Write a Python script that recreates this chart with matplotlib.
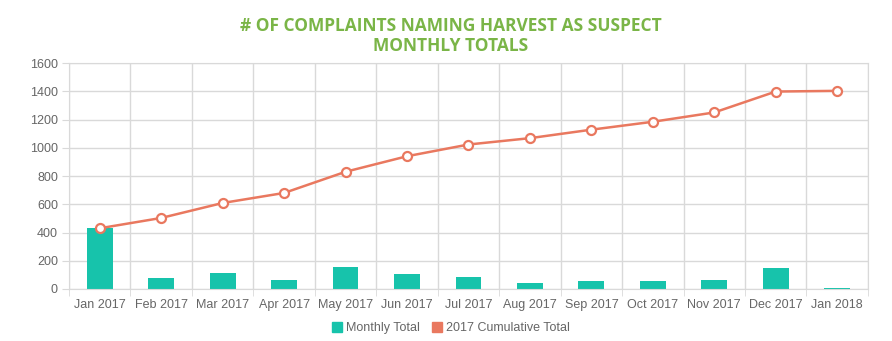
import matplotlib
matplotlib.use("Agg")
import matplotlib.pyplot as plt
from matplotlib.lines import Line2D
import numpy as np

# data
months = ["Jan 2017", "Feb 2017", "Mar 2017", "Apr 2017", "May 2017", "Jun 2017",
          "Jul 2017", "Aug 2017", "Sep 2017", "Oct 2017", "Nov 2017", "Dec 2017", "Jan 2018"]
monthly_total = [432, 78, 115, 64, 156, 108, 85, 45, 57, 57, 64, 149, 5]
cumulative_total = [430, 503, 609, 680, 830, 940, 1023, 1068, 1128, 1184, 1250, 1398, 1403]
y_ticks = [0, 200, 400, 600, 800, 1000, 1200, 1400, 1600]
series_names = ["Monthly Total", "2017 Cumulative Total"]

bar_color = "#17c3ab"
line_color = "#e9785f"
grid_color = "#d9d9d9"
text_color = "#666666"

plt.rcParams['font.family'] = ['Liberation Sans', 'DejaVu Sans']

fig = plt.figure(figsize=(8.92, 3.41), dpi=100)
ax = fig.add_axes([0.0774, 0.1525, 0.8956, 0.6627])

x = np.arange(len(months))
ax.bar(x, monthly_total, width=0.42, color=bar_color, zorder=2)
ax.plot(x, cumulative_total, color=line_color, lw=1.8, marker="o", markersize=6.5,
        markerfacecolor="white", markeredgecolor=line_color, markeredgewidth=1.6,
        zorder=3)

ax.set_xlim(-0.5, len(months) - 0.5)
ax.set_ylim(0, 1600)
ax.set_yticks(y_ticks)
ax.set_xticks(x)
ax.set_xticklabels(months)
ax.set_xticks(np.arange(-0.5, len(months)), minor=True)

ax.tick_params(axis="x", which="major", length=0, pad=7, labelsize=9, labelcolor=text_color)
ax.tick_params(axis="x", which="minor", length=5, color=grid_color)
ax.tick_params(axis="y", length=5, color=grid_color, labelsize=9, labelcolor=text_color, pad=3)

ax.grid(axis="y", color=grid_color, lw=1, zorder=0)
ax.grid(axis="x", which="minor", color=grid_color, lw=1, zorder=0)
ax.set_axisbelow(True)
for s in ax.spines.values():
    s.set_color(grid_color)

fig.text(0.505, 0.95, "# OF COMPLAINTS NAMING HARVEST AS SUSPECT\nMONTHLY TOTALS",
         ha="center", va="top", fontsize=12.5, fontweight="bold", color="#7ab547",
         family=["Open Sans", "DejaVu Sans"], linespacing=1.15)

h = [Line2D([], [], marker="s", ls="", color=bar_color, markersize=7),
     Line2D([], [], marker="s", ls="", color=line_color, markersize=7)]
fig.legend(h, series_names, loc="center", bbox_to_anchor=(0.505, 0.038), ncol=2, frameon=False,
           fontsize=9, labelcolor=text_color, handletextpad=0.2, columnspacing=0.9,
           handlelength=1.0)

plt.savefig("out.png", dpi=100)
